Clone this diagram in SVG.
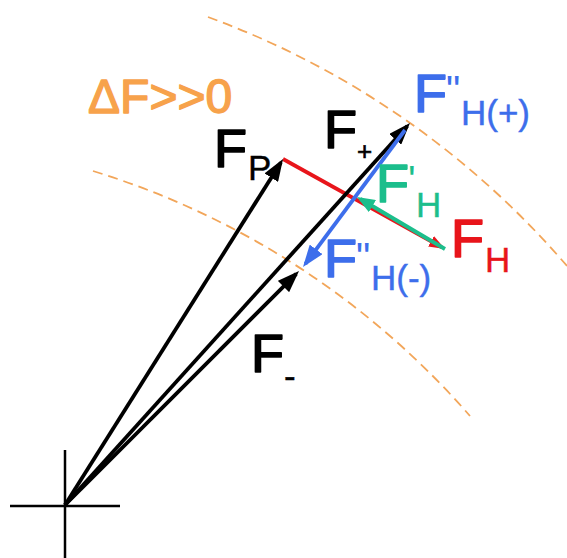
<svg xmlns="http://www.w3.org/2000/svg" width="567" height="558" viewBox="0 0 567 558">
<style>
  text { font-family: "Liberation Sans", Arial, sans-serif; }
  .big { font-size: 54px; stroke-width: 1.6; stroke-linejoin: round; }
  .sub { font-size: 35px; stroke-width: 0.4; }
  .tk { fill: #000; stroke: #000; }
  .tb { fill: #3D6EEB; stroke: #3D6EEB; }
  .tg { fill: #1CBE8C; stroke: #1CBE8C; }
  .tr { fill: #E8151B; stroke: #E8151B; }
  .arc { fill: none; stroke: #F2A65A; stroke-width: 1.8; stroke-dasharray: 10 6; }
  .vec { fill: none; stroke-width: 3.8; stroke-linecap: butt; }
  .k { stroke: #000; }
  .b { stroke: #3D6EEB; }
  .g { stroke: #1CBE8C; }
  .r { stroke: #E8151B; }
</style>
<defs>
  <marker id="ak" viewBox="0 0 22 16" refX="18" refY="8" markerWidth="22" markerHeight="16" markerUnits="userSpaceOnUse" orient="auto">
    <path d="M0,0 L22,8 L0,16 z" fill="#000"/>
  </marker>
  <marker id="ab" viewBox="0 0 22 16" refX="18" refY="8" markerWidth="22" markerHeight="16" markerUnits="userSpaceOnUse" orient="auto">
    <path d="M0,0 L22,8 L0,16 z" fill="#3D6EEB"/>
  </marker>
  <marker id="ag" viewBox="0 0 18 14" refX="14" refY="7" markerWidth="18" markerHeight="14" markerUnits="userSpaceOnUse" orient="auto">
    <path d="M0,0 L18,7 L0,14 z" fill="#1CBE8C"/>
  </marker>
  <marker id="ar" viewBox="0 0 16 12" refX="12" refY="6" markerWidth="16" markerHeight="12" markerUnits="userSpaceOnUse" orient="auto">
    <path d="M0,0 L16,6 L0,12 z" fill="#E8151B"/>
  </marker>
</defs>
<rect width="567" height="558" fill="#fff"/>

<g id="dashed-arcs">
  <path class="arc" d="M208,17 A865,865 0 0 1 567,266"/>
  <path class="arc" d="M93,171 A819,819 0 0 1 470,416"/>
</g>

<g id="origin">
  <line x1="65" y1="450" x2="65" y2="558" stroke="#000" stroke-width="2.5"/>
  <line x1="10" y1="506" x2="120" y2="506" stroke="#000" stroke-width="2.5"/>
</g>

<g id="connectors">
  <line class="vec r" x1="283" y1="159" x2="441.5" y2="247.1" stroke-width="3.2" marker-end="url(#ar)"/>
  <line class="vec k" x1="65" y1="505" x2="280.9" y2="162.4" marker-end="url(#ak)"/>
  <line class="vec k" x1="65" y1="505" x2="407.3" y2="126" marker-end="url(#ak)"/>
  <line class="vec k" x1="65" y1="505" x2="296.2" y2="273.8" marker-end="url(#ak)"/>
  <line class="vec b" x1="405" y1="130" x2="305.4" y2="263.8" stroke-width="3.4" marker-end="url(#ab)"/>
  <line class="vec g" x1="445" y1="249" x2="360.4" y2="199" marker-end="url(#ag)"/>
</g>

<g id="label-deltaF">
  <text x="88" y="113" font-size="48" fill="#F7A24B" stroke="#F7A24B" stroke-width="1.4" stroke-linejoin="round">ΔF&gt;&gt;0</text>
</g>
<g id="label-Fp">
  <text class="tk"><tspan class="big" x="214" y="167">F</tspan><tspan class="sub" x="248" y="180" font-size="32">P</tspan></text>
</g>
<g id="label-Fplus">
  <text class="tk"><tspan class="big" x="324" y="148">F</tspan><tspan x="357" y="160" font-size="26" stroke-width="0.6">+</tspan></text>
</g>
<g id="label-FHplus">
  <text class="tb"><tspan class="big" x="414" y="112">F</tspan><tspan x="446" y="104" font-size="40" stroke-width="0">"</tspan><tspan class="sub" x="461" y="125">H(+)</tspan></text>
</g>
<g id="label-FHprime">
  <text class="tg"><tspan class="big" x="376" y="202" font-size="52">F</tspan><tspan x="408" y="194" font-size="40" stroke-width="0">'</tspan><tspan class="sub" x="416" y="217">H</tspan></text>
</g>
<g id="label-FH">
  <text class="tr"><tspan class="big" x="451" y="257">F</tspan><tspan class="sub" x="485" y="272">H</tspan></text>
</g>
<g id="label-FHminus">
  <text class="tb"><tspan class="big" x="324" y="277">F</tspan><tspan x="356" y="271" font-size="40" stroke-width="0">"</tspan><tspan class="sub" x="371" y="290">H(-)</tspan></text>
</g>
<g id="label-Fminus">
  <text class="tk"><tspan class="big" x="251" y="372">F</tspan><tspan class="sub" x="284" y="388" stroke-width="1.2">-</tspan></text>
</g>
</svg>
